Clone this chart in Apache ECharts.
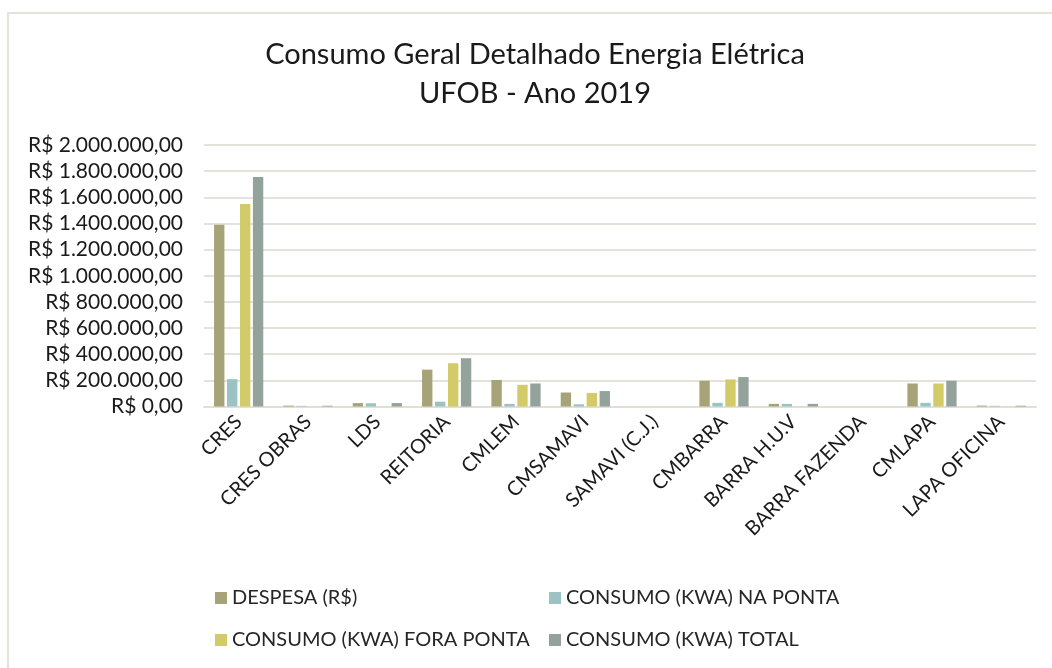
<!DOCTYPE html>
<html><head><meta charset="utf-8">
<script src="https://cdn.jsdelivr.net/npm/echarts@6/dist/echarts.min.js"></script>
<style>html,body{margin:0;padding:0;background:#fff}#c{width:1052px;height:668px}</style>
</head><body><div id="c"></div>
<script>
const categories = ['CRES','CRES OBRAS','LDS','REITORIA','CMLEM','CMSAMAVI','SAMAVI (C.J.)','CMBARRA','BARRA H.U.V','BARRA FAZENDA','CMLAPA','LAPA OFICINA'];
const despesa    = [1390000, 7000, 26000, 282000, 203000, 107000, 0, 197000, 20000, 0, 176000, 7000];
const naPonta    = [209000, 5000, 25000, 37000, 20000, 17000, 0, 28000, 20000, 0, 28000, 5000];
const foraPonta  = [1548000, 1000, 1000, 331000, 166000, 104000, 0, 207000, 1000, 0, 176000, 1000];
const total      = [1755000, 6000, 26000, 369000, 176000, 118000, 0, 225000, 20000, 0, 197000, 6000];
const seriesNames = ['DESPESA (R$)','CONSUMO (KWA) NA PONTA','CONSUMO (KWA) FORA PONTA','CONSUMO (KWA) TOTAL'];
const colors = ['#a7a379','#9cc3c3','#d3cb6a','#93a29b'];

function fmt(v){
  const s = Math.round(v).toString().replace(/\B(?=(\d{3})+(?!\d))/g,'.');
  return 'R$ ' + s + ',00';
}
const font = 'Lato';
const chart = echarts.init(document.getElementById('c'));
const legendPos = [[215,588],[549,588],[215,630],[549,630]];
chart.setOption({
  animation:false,
  textStyle:{fontFamily:font},
  graphic:[{type:'polyline',shape:{points:[[8,700],[8,13],[1100,13]]},style:{stroke:'#e4e2da',lineWidth:2,fill:null},silent:true}],
  title:{text:'Consumo Geral Detalhado Energia Elétrica\nUFOB - Ano 2019',left:535,top:35,textAlign:'center',padding:0,
    textStyle:{fontFamily:font,fontSize:29,fontWeight:'normal',color:'#1a1a1a',lineHeight:39}},
  legend: seriesNames.map((n,i)=>({data:[n],left:legendPos[i][0],top:legendPos[i][1],padding:0,icon:'rect',itemWidth:12,itemHeight:12,itemGap:4,
    textStyle:{fontFamily:font,fontSize:20,color:'#262626'}})),
  grid:{left:204,right:16,top:145,bottom:261.5,containLabel:false},
  xAxis:{type:'category',data:categories,
    axisLine:{lineStyle:{color:'#e2dfd6',width:2}},axisTick:{show:false},
    axisLabel:{rotate:45,interval:0,fontSize:20,color:'#1a1a1a',margin:12,fontFamily:font}},
  yAxis:{type:'value',min:0,max:2000000,interval:200000,
    axisLine:{show:false},axisTick:{show:false},
    splitLine:{lineStyle:{color:'#e4e2da',width:2}},
    axisLabel:{formatter:fmt,fontSize:21,color:'#1a1a1a',margin:21,fontFamily:font}},
  series:[despesa,naPonta,foraPonta,total].map((d,i)=>({
    name:seriesNames[i],type:'bar',data:d,barGap:'25%',barCategoryGap:'29%',
    itemStyle:{color:colors[i]}
  }))
});
</script></body></html>
